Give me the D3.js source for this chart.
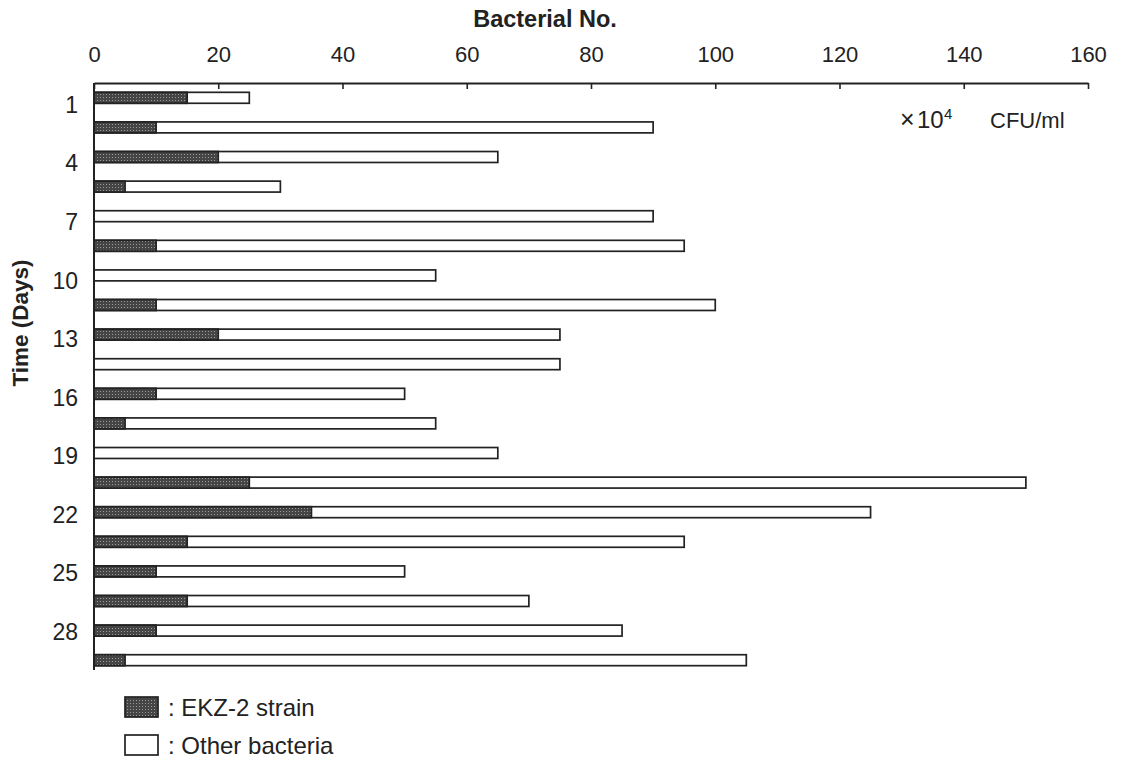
<!DOCTYPE html>
<html>
<head>
<meta charset="utf-8">
<script src="https://cdn.jsdelivr.net/npm/d3@7"></script>
<style>
  body { margin: 0; background: #fff; }
  text { font-family: "Liberation Sans", Arial, sans-serif; fill: #222; }
</style>
</head>
<body>
<div id="chart"></div>
<script>
// data (x10^4 CFU/ml), one bar per sample
var totalCounts = [25, 90, 65, 30, 90, 95, 55, 100, 75, 75, 50, 55, 65, 150, 125, 95, 50, 70, 85, 105];
var ekzCounts   = [15, 10, 20, 5, 0, 10, 0, 10, 20, 0, 10, 5, 0, 25, 35, 15, 10, 15, 10, 5];
var dayTicks = [1, 4, 7, 10, 13, 16, 19, 22, 25, 28];
var xTicks = [0, 20, 40, 60, 80, 100, 120, 140, 160];

var svgWidth = 1121;
var svgHeight = 759;

var svg = d3.select("#chart")
  .append("svg")
  .attr("width", svgWidth)
  .attr("height", svgHeight);

// stipple fill for the EKZ-2 part
var defs = svg.append("defs");
var pat = defs.append("pattern")
  .attr("id", "stipple")
  .attr("width", 3)
  .attr("height", 3)
  .attr("patternUnits", "userSpaceOnUse");
pat.append("rect").attr("width", 3).attr("height", 3).attr("fill", "#454545");
pat.append("rect").attr("x", 1).attr("y", 1).attr("width", 1).attr("height", 1).attr("fill", "#9a9a9a");

var axisTop = 83;
var axisBottom = 670;

var xScale = d3.scaleLinear()
  .domain([0, 160])
  .range([94, 1088]);

var yScale = d3.scaleBand()
  .domain(d3.range(totalCounts.length))
  .range([83, 675])
  .paddingInner(0.63)
  .paddingOuter(0.315);

var dayScale = d3.scaleLinear()
  .domain([1, 28])
  .range([105, 632]);

// bars: total first (white), then EKZ-2 part on top
var bars = svg.append("g");
bars.selectAll("rect.total")
  .data(totalCounts)
  .enter()
  .append("rect")
  .attr("class", "total")
  .attr("x", xScale(0))
  .attr("y", (d, i) => yScale(i))
  .attr("width", d => xScale(d) - xScale(0))
  .attr("height", yScale.bandwidth())
  .attr("fill", "#fff")
  .attr("stroke", "#222")
  .attr("stroke-width", 1.7);

bars.selectAll("rect.ekz")
  .data(ekzCounts.map((v, i) => ({v: v, i: i})).filter(d => d.v > 0))
  .enter()
  .append("rect")
  .attr("class", "ekz")
  .attr("x", xScale(0))
  .attr("y", d => yScale(d.i))
  .attr("width", d => xScale(d.v) - xScale(0))
  .attr("height", yScale.bandwidth())
  .attr("fill", "url(#stipple)")
  .attr("stroke", "#222")
  .attr("stroke-width", 1.7);

// top axis
var topAxis = d3.axisTop(xScale)
  .tickValues(xTicks)
  .tickSizeInner(-6)
  .tickSizeOuter(0)
  .tickPadding(21);

var xg = svg.append("g")
  .attr("transform", `translate(0, ${axisTop})`)
  .call(topAxis);
xg.select(".domain").attr("stroke", "#222").attr("stroke-width", 2);
xg.selectAll(".tick line").attr("stroke", "#222").attr("stroke-width", 1.6);
xg.selectAll(".tick text")
  .attr("font-size", 22)
  .attr("font-family", "Liberation Sans, Arial, sans-serif")
  .attr("fill", "#222");

// left axis line
svg.append("line")
  .attr("x1", xScale(0))
  .attr("x2", xScale(0))
  .attr("y1", axisTop)
  .attr("y2", axisBottom)
  .attr("stroke", "#222")
  .attr("stroke-width", 2);

var leftAxis = d3.axisLeft(dayScale)
  .tickValues(dayTicks)
  .tickSize(0)
  .tickPadding(16);
var yg = svg.append("g")
  .attr("transform", `translate(${xScale(0)}, 0)`)
  .call(leftAxis);
yg.select(".domain").remove();
yg.selectAll(".tick text")
  .attr("font-size", 23)
  .attr("font-family", "Liberation Sans, Arial, sans-serif")
  .attr("fill", "#222");

// titles
svg.append("text")
  .attr("x", 545)
  .attr("y", 27)
  .attr("text-anchor", "middle")
  .attr("font-size", 23.5)
  .attr("font-weight", "bold")
  .text("Bacterial No.");

svg.append("text")
  .attr("transform", "translate(28, 323) rotate(-90)")
  .attr("text-anchor", "middle")
  .attr("font-size", 22.5)
  .attr("font-weight", "bold")
  .text("Time (Days)");

// unit label
var unit = svg.append("text")
  .attr("y", 128)
  .attr("font-size", 22);
unit.append("tspan").attr("x", 900).attr("font-size", 25).text("\u00d7");
unit.append("tspan").attr("x", 917).attr("font-size", 24).text("10");
unit.append("tspan").attr("x", 944).attr("dy", -9).attr("font-size", 15).text("4");
unit.append("tspan").attr("x", 990).attr("y", 128).text("CFU/ml");

// legend
var legendItems = [
  {label: ": EKZ-2 strain", fill: "url(#stipple)"},
  {label: ": Other bacteria", fill: "#fff"}
];
var legend = svg.append("g");
legendItems.forEach(function(item, i) {
  var y = 697 + i * 38;
  legend.append("rect")
    .attr("x", 125)
    .attr("y", y)
    .attr("width", 33)
    .attr("height", 20)
    .attr("fill", item.fill)
    .attr("stroke", "#222")
    .attr("stroke-width", 1.7);
  legend.append("text")
    .attr("x", 168)
    .attr("y", y + 19)
    .attr("font-size", 24)
    .text(item.label);
});
</script>
</body>
</html>
